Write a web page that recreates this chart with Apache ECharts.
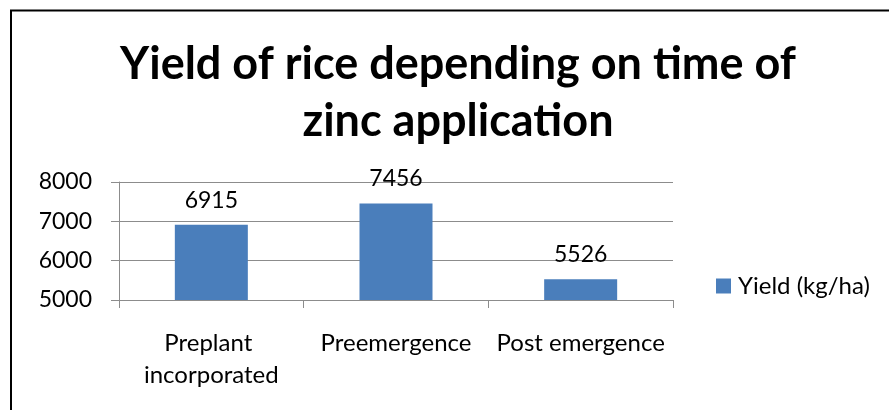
<!DOCTYPE html>
<html>
<head>
<meta charset="utf-8">
<script src="https://cdn.jsdelivr.net/npm/echarts@6/dist/echarts.min.js"></script>
<style>
  html, body { margin: 0; padding: 0; background: #fff; }
  #chart { width: 889px; height: 410px; }
</style>
</head>
<body>
<div id="chart"></div>
<script>
// data
const categories = ['Preplant incorporated', 'Preemergence', 'Post emergence'];
const yieldValues = [6915, 7456, 5526];
const seriesName = 'Yield (kg/ha)';
const titleText = 'Yield of rice depending on time of\nzinc application';

const font = 'Lato, "Noto Sans", sans-serif';
const chart = echarts.init(document.getElementById('chart'));

chart.setOption({
  animation: false,
  backgroundColor: '#fff',
  title: {
    text: titleText,
    left: 453,
    top: 31,
    textAlign: 'center',
    textStyle: {
      fontFamily: font,
      fontWeight: 'bold',
      fontSize: 45,
      lineHeight: 57,
      color: '#000',
    },
  },
  legend: {
    data: [seriesName],
    left: 716,
    top: 274,
    padding: 0,
    icon: 'rect',
    itemWidth: 15,
    itemHeight: 15,
    itemGap: 0,
    textStyle: { fontFamily: font, fontSize: 24, color: '#000', padding: [0, 0, 0, 2] },
  },
  grid: {
    left: 119,
    right: 216,
    top: 182,
    bottom: 110,
  },
  xAxis: {
    type: 'category',
    data: categories,
    axisLine: { lineStyle: { color: '#8c8c8c', width: 1 } },
    axisTick: { show: true, alignWithLabel: false, length: 8, lineStyle: { color: '#8c8c8c' } },
    axisLabel: {
      interval: 0,
      margin: 27,
      width: 185,
      overflow: 'break',
      fontFamily: font,
      fontSize: 24,
      lineHeight: 32,
      color: '#000',
    },
  },
  yAxis: {
    type: 'value',
    min: 5000,
    max: 8000,
    interval: 1000,
    axisLine: { show: true, lineStyle: { color: '#8c8c8c', width: 1 } },
    axisTick: { show: true, length: 8, lineStyle: { color: '#8c8c8c' } },
    splitLine: { lineStyle: { color: '#8c8c8c', width: 1 } },
    axisLabel: {
      margin: 27,
      formatter: (v) => String(v),
      fontFamily: font,
      fontSize: 23,
      color: '#000',
    },
  },
  series: [
    {
      name: seriesName,
      type: 'bar',
      data: yieldValues,
      barWidth: 73,
      itemStyle: { color: '#4a7ebb' },
      label: {
        show: true,
        position: 'top',
        distance: 13,
        fontFamily: font,
        fontSize: 23,
        color: '#000',
      },
    },
  ],
  graphic: [
    {
      type: 'rect',
      shape: { x: 11, y: 10.5, width: 920, height: 450 },
      style: { fill: null, stroke: '#000', lineWidth: 2 },
      silent: true,
    },
  ],
});
</script>
</body>
</html>
